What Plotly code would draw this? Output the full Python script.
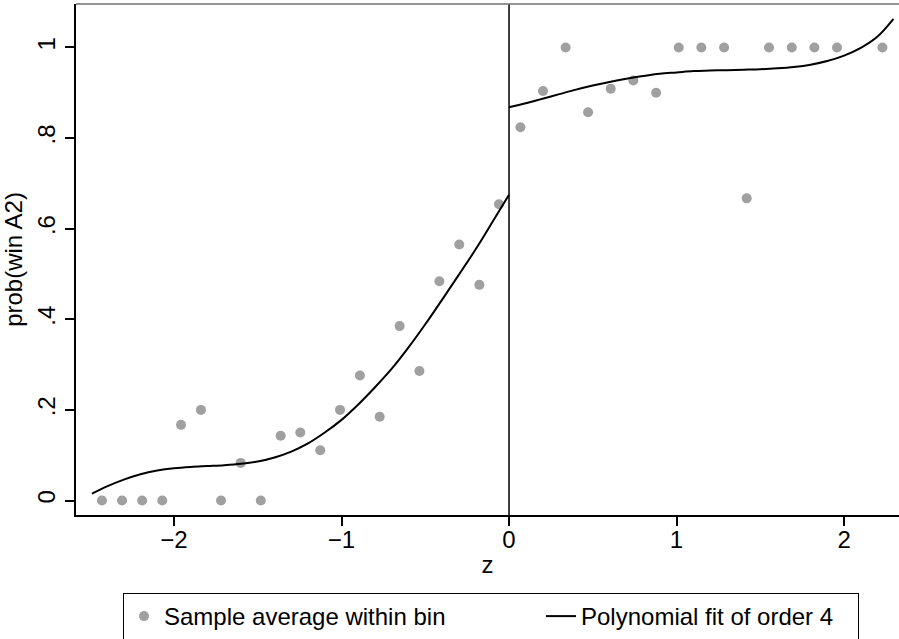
import plotly.graph_objects as go

# ---- data ----
bin_z_left = [-2.43, -2.31, -2.19, -2.07, -1.958, -1.839, -1.719, -1.602, -1.482, -1.363,
              -1.246, -1.127, -1.009, -0.890, -0.772, -0.653, -0.535, -0.416, -0.297, -0.177, -0.060]
bin_p_left = [0, 0, 0, 0, 0.167, 0.200, 0, 0.083, 0, 0.143,
              0.150, 0.111, 0.200, 0.276, 0.185, 0.385, 0.286, 0.484, 0.565, 0.476, 0.654]
bin_z_right = [0.068, 0.203, 0.338, 0.472, 0.607, 0.742, 0.878, 1.013, 1.148, 1.284,
               1.419, 1.552, 1.688, 1.823, 1.958, 2.229]
bin_p_right = [0.824, 0.904, 1, 0.857, 0.909, 0.927, 0.900, 1, 1, 1,
               0.667, 1, 1, 1, 1, 1]

fit_z_left = [-2.49, -2.4, -2.3, -2.2, -2.1, -2.0, -1.9, -1.8, -1.7, -1.6, -1.5, -1.4, -1.3,
              -1.2, -1.1, -1.0, -0.9, -0.8, -0.7, -0.6, -0.5, -0.4, -0.3, -0.2, -0.1, 0.0]
fit_p_left = [0.015, 0.031, 0.046, 0.058, 0.066, 0.071, 0.074, 0.076, 0.078, 0.081, 0.086, 0.095, 0.108,
              0.126, 0.150, 0.178, 0.212, 0.250, 0.291, 0.338, 0.389, 0.443, 0.498, 0.554, 0.614, 0.675]
fit_z_right = [0.0, 0.1, 0.2, 0.3, 0.4, 0.5, 0.6, 0.7, 0.8, 0.9, 1.0, 1.1, 1.2,
               1.3, 1.4, 1.5, 1.6, 1.7, 1.8, 1.9, 2.0, 2.1, 2.2, 2.295]
fit_p_right = [0.868, 0.877, 0.887, 0.897, 0.907, 0.916, 0.924, 0.931, 0.937, 0.942, 0.945, 0.948, 0.949,
               0.950, 0.951, 0.952, 0.954, 0.957, 0.962, 0.970, 0.982, 0.999, 1.024, 1.063]

cutoff = 0
x_ticks = [-2, -1, 0, 1, 2]
y_ticks = [0, 0.2, 0.4, 0.6, 0.8, 1]
y_tick_labels = ["0", ".2", ".4", ".6", ".8", "1"]

FONT = "Liberation Sans, Arial, Helvetica, sans-serif"
FS = 24

fig = go.Figure()
fig.add_trace(go.Scatter(
    x=bin_z_left + bin_z_right, y=bin_p_left + bin_p_right,
    mode="markers", name="Sample average within bin",
    marker=dict(color="#a0a0a0", size=10, line=dict(width=0)),
    legendwidth=372,
))
fig.add_trace(go.Scatter(
    x=fit_z_left, y=fit_p_left, mode="lines", name="Polynomial fit of order 4",
    line=dict(color="black", width=2, shape="spline", smoothing=1), legendwidth=272,
))
fig.add_trace(go.Scatter(
    x=fit_z_right, y=fit_p_right, mode="lines", showlegend=False,
    line=dict(color="black", width=2, shape="spline", smoothing=1),
))

fig.add_shape(type="line", xref="x", yref="paper", x0=cutoff, x1=cutoff, y0=0, y1=1,
              line=dict(color="black", width=1.5))
fig.add_shape(type="line", xref="paper", yref="paper", x0=0, x1=1, y0=1, y1=1,
              line=dict(color="#707070", width=1.5))

fig.update_layout(
    width=899, height=639,
    margin=dict(l=76, r=0, t=4, b=124, autoexpand=False),
    paper_bgcolor="white", plot_bgcolor="white",
    font=dict(family=FONT, size=FS, color="black"),
    showlegend=True,
    legend=dict(
        orientation="h", x=(123 - 76) / 823, xanchor="left", y=(515 - 593) / 511, yanchor="top",
        bordercolor="black", borderwidth=1, bgcolor="white",
        font=dict(family=FONT, size=FS, color="black"),
    ),
    xaxis=dict(
        range=[-2.585, 2.328], tickvals=x_ticks, showgrid=False, zeroline=False,
        showline=True, linecolor="black", linewidth=2,
        ticks="outside", ticklen=9, tickwidth=1.5, tickcolor="black",
        ticklabelstandoff=-7,
        tickfont=dict(size=FS), title=dict(text="z", font=dict(size=FS), standoff=4),
    ),
    yaxis=dict(
        range=[-0.032, 1.096], tickvals=y_ticks, ticktext=y_tick_labels, tickangle=-90,
        showgrid=False, zeroline=False,
        showline=True, linecolor="black", linewidth=2,
        ticks="outside", ticklen=9, tickwidth=1.5, tickcolor="black",
        tickfont=dict(size=FS), title=dict(text="prob(win A2)", font=dict(size=FS), standoff=4),
    ),
)

fig.write_html("out.html", post_script="document.body.style.margin='0';",
               config={"displayModeBar": False})
